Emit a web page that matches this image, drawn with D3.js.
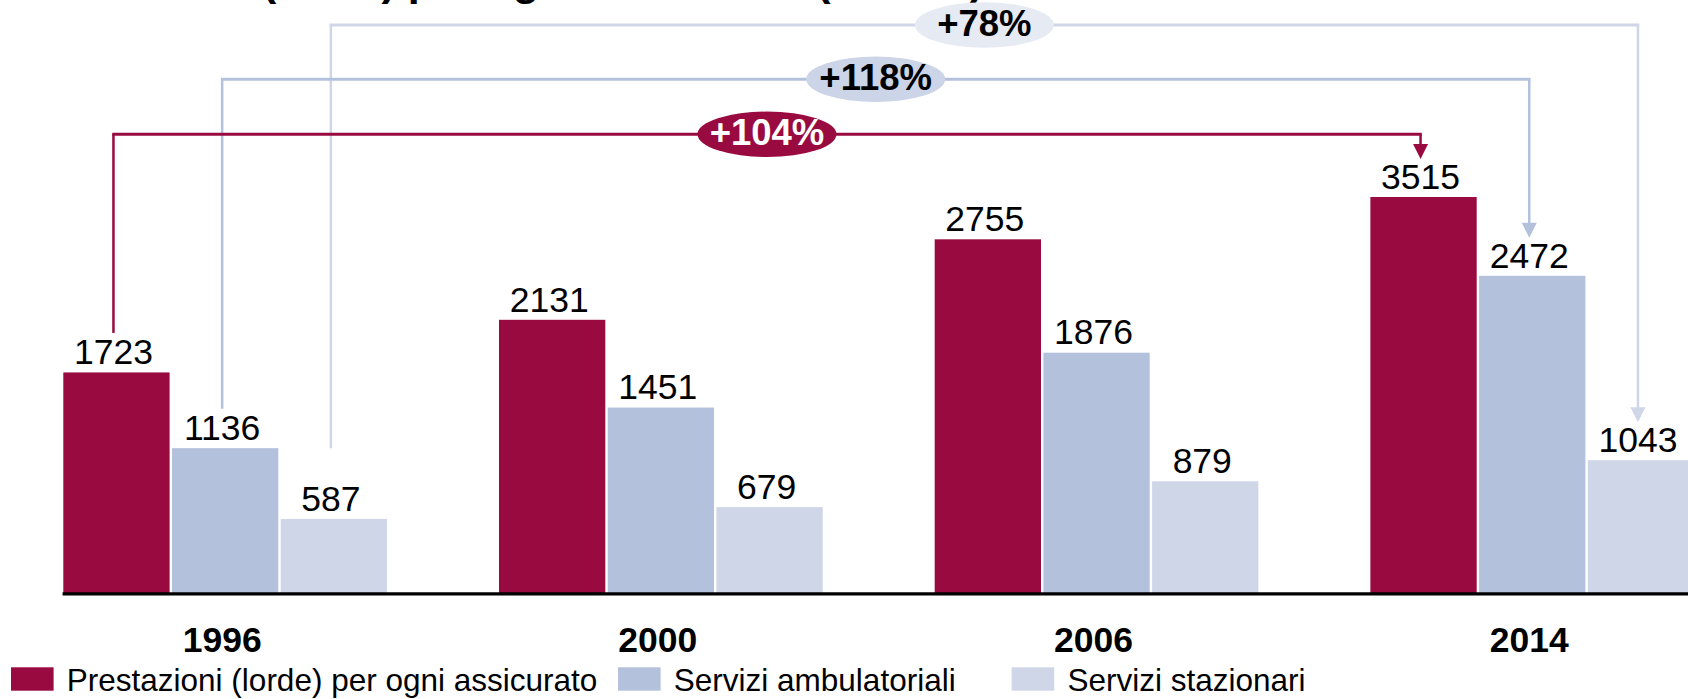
<!DOCTYPE html>
<html>
<head>
<meta charset="utf-8">
<script src="https://cdn.jsdelivr.net/npm/d3@7"></script>
<style>
  html, body { margin: 0; padding: 0; background: #ffffff; }
  svg { display: block; }
  text { font-family: "Liberation Sans", Arial, Helvetica, sans-serif; }
</style>
</head>
<body>
<script>
// ---- data ----
const years = ["1996", "2000", "2006", "2014"];
const seriesNames = ["Prestazioni (lorde) per ogni assicurato", "Servizi ambulatoriali", "Servizi stazionari"];
const prestazioni = [1723, 2131, 2755, 3515];
const ambulatoriali = [1136, 1451, 1876, 2472];
const stazionari = [587, 679, 879, 1043];
const titleText = "Prestazioni (lorde) per ogni assicurato (in CHF)";

// ---- layout / style ----
const W = 1688, H = 699;
const colors = ["#990a40", "#b4c1dd", "#cfd6e7"];
const ellipseFill = ["#990a40", "#ccd4e7", "#e6eaf3"];
const ellipseText = ["#ffffff", "#000000", "#000000"];
const levelY = [134.3, 79.3, 25];          // heights of the connector bridges
const startGap = [39.5, 39.5, 70.7];        // gap between bar top and connector start
const legendX = [11, 618, 1011.6];

const series = [prestazioni, ambulatoriali, stazionari];

const svg = d3.select("body").append("svg")
  .attr("width", W).attr("height", H);

const x0 = d3.scaleBand().domain(years).range([62.1, 1695.3]).paddingInner(0.2515).paddingOuter(0);
const barGap = 2.4 / 108.7;
const x1 = d3.scaleBand().domain(d3.range(series.length)).range([0, x0.bandwidth()])
  .paddingInner(barGap).paddingOuter(barGap / 2);
// plot area top is at the tallest visible bar; taller values are clamped to it
const y = d3.scaleLinear().domain([0, 3083]).range([594.7, 197]).clamp(true);

const cx = (yi, si) => x0(years[yi]) + x1(si) + x1.bandwidth() / 2 - 3;

// title (mostly cut off at top)
svg.append("text")
  .attr("x", 20.6).attr("y", -5)
  .attr("font-size", 43).attr("font-weight", "bold").attr("fill", "#000")
  .text(titleText);

// bars
const groups = svg.append("g").selectAll("g").data(years).join("g")
  .attr("transform", d => `translate(${x0(d)},0)`);

groups.selectAll("rect")
  .data((d, yi) => series.map((s, si) => ({ si, v: s[yi] })))
  .join("rect")
  .attr("x", d => x1(d.si))
  .attr("width", x1.bandwidth())
  .attr("y", d => y(d.v))
  .attr("height", d => y(0) - y(d.v))
  .attr("fill", d => colors[d.si]);

// value labels
groups.selectAll("text.val")
  .data((d, yi) => series.map((s, si) => ({ si, v: s[yi] })))
  .join("text")
  .attr("class", "val")
  .attr("x", d => x1(d.si) + x1.bandwidth() / 2 - 3)
  .attr("y", d => y(d.v) - 8.3)
  .attr("text-anchor", "middle")
  .attr("font-size", 35.5)
  .attr("fill", "#000")
  .text(d => d.v);

// axis
const axis = svg.append("g")
  .attr("transform", "translate(0,593.3)")
  .call(d3.axisBottom(x0).tickSize(0).tickSizeOuter(0).tickPadding(33.5));
axis.select(".domain").attr("stroke", "#000").attr("stroke-width", 3.3);
axis.selectAll(".tick text")
  .attr("x", -3)
  .attr("font-size", 35.5).attr("font-weight", "bold")
  .attr("font-family", "Liberation Sans, Arial, Helvetica, sans-serif")
  .attr("fill", "#000");

// growth connectors (drawn light first so darker ones sit on top)
const first = 0, last = years.length - 1;
[2, 1, 0].forEach(si => {
  const s = series[si];
  const sx = cx(first, si), ex = cx(last, si);
  const sy = y(s[first]) - startGap[si];
  const tip = y(s[last]) - 38;
  const arrowH = 15, arrowW = 15;
  const lvl = levelY[si];
  const g = svg.append("g");
  g.append("path")
    .attr("d", `M${sx},${sy}V${lvl}`)
    .attr("stroke", colors[si]).attr("stroke-width", 2.5).attr("fill", "none");
  g.append("path")
    .attr("d", `M${ex},${lvl}V${tip - arrowH + 1}`)
    .attr("stroke", colors[si]).attr("stroke-width", 2.5).attr("fill", "none");
  g.append("path")
    .attr("d", `M${sx - 1.25},${lvl}H${ex + 1.25}`)
    .attr("stroke", colors[si]).attr("stroke-width", 3).attr("fill", "none");
  g.append("path")
    .attr("d", `M${ex - arrowW / 2},${tip - arrowH}L${ex + arrowW / 2},${tip - arrowH}L${ex},${tip}Z`)
    .attr("fill", colors[si]);
  const pct = Math.round((s[last] / s[first] - 1) * 100);
  const mx = (sx + ex) / 2;
  g.append("ellipse")
    .attr("cx", mx).attr("cy", lvl)
    .attr("rx", 69.5).attr("ry", 22.7)
    .attr("fill", ellipseFill[si]);
  g.append("text")
    .attr("x", mx).attr("y", lvl + 10.8)
    .attr("text-anchor", "middle")
    .attr("font-size", 36.5).attr("font-weight", "bold")
    .attr("fill", ellipseText[si])
    .text("+" + pct + "%");
});

// legend
const legend = svg.append("g").selectAll("g").data(seriesNames).join("g")
  .attr("transform", (d, i) => `translate(${legendX[i]},0)`);
legend.append("rect")
  .attr("x", 0).attr("y", 667.3).attr("width", 42.6).attr("height", 23.4)
  .attr("fill", (d, i) => colors[i]);
legend.append("text")
  .attr("x", 55.8).attr("y", 690.8)
  .attr("font-size", 31.5).attr("fill", "#000")
  .text(d => d);
</script>
</body>
</html>
